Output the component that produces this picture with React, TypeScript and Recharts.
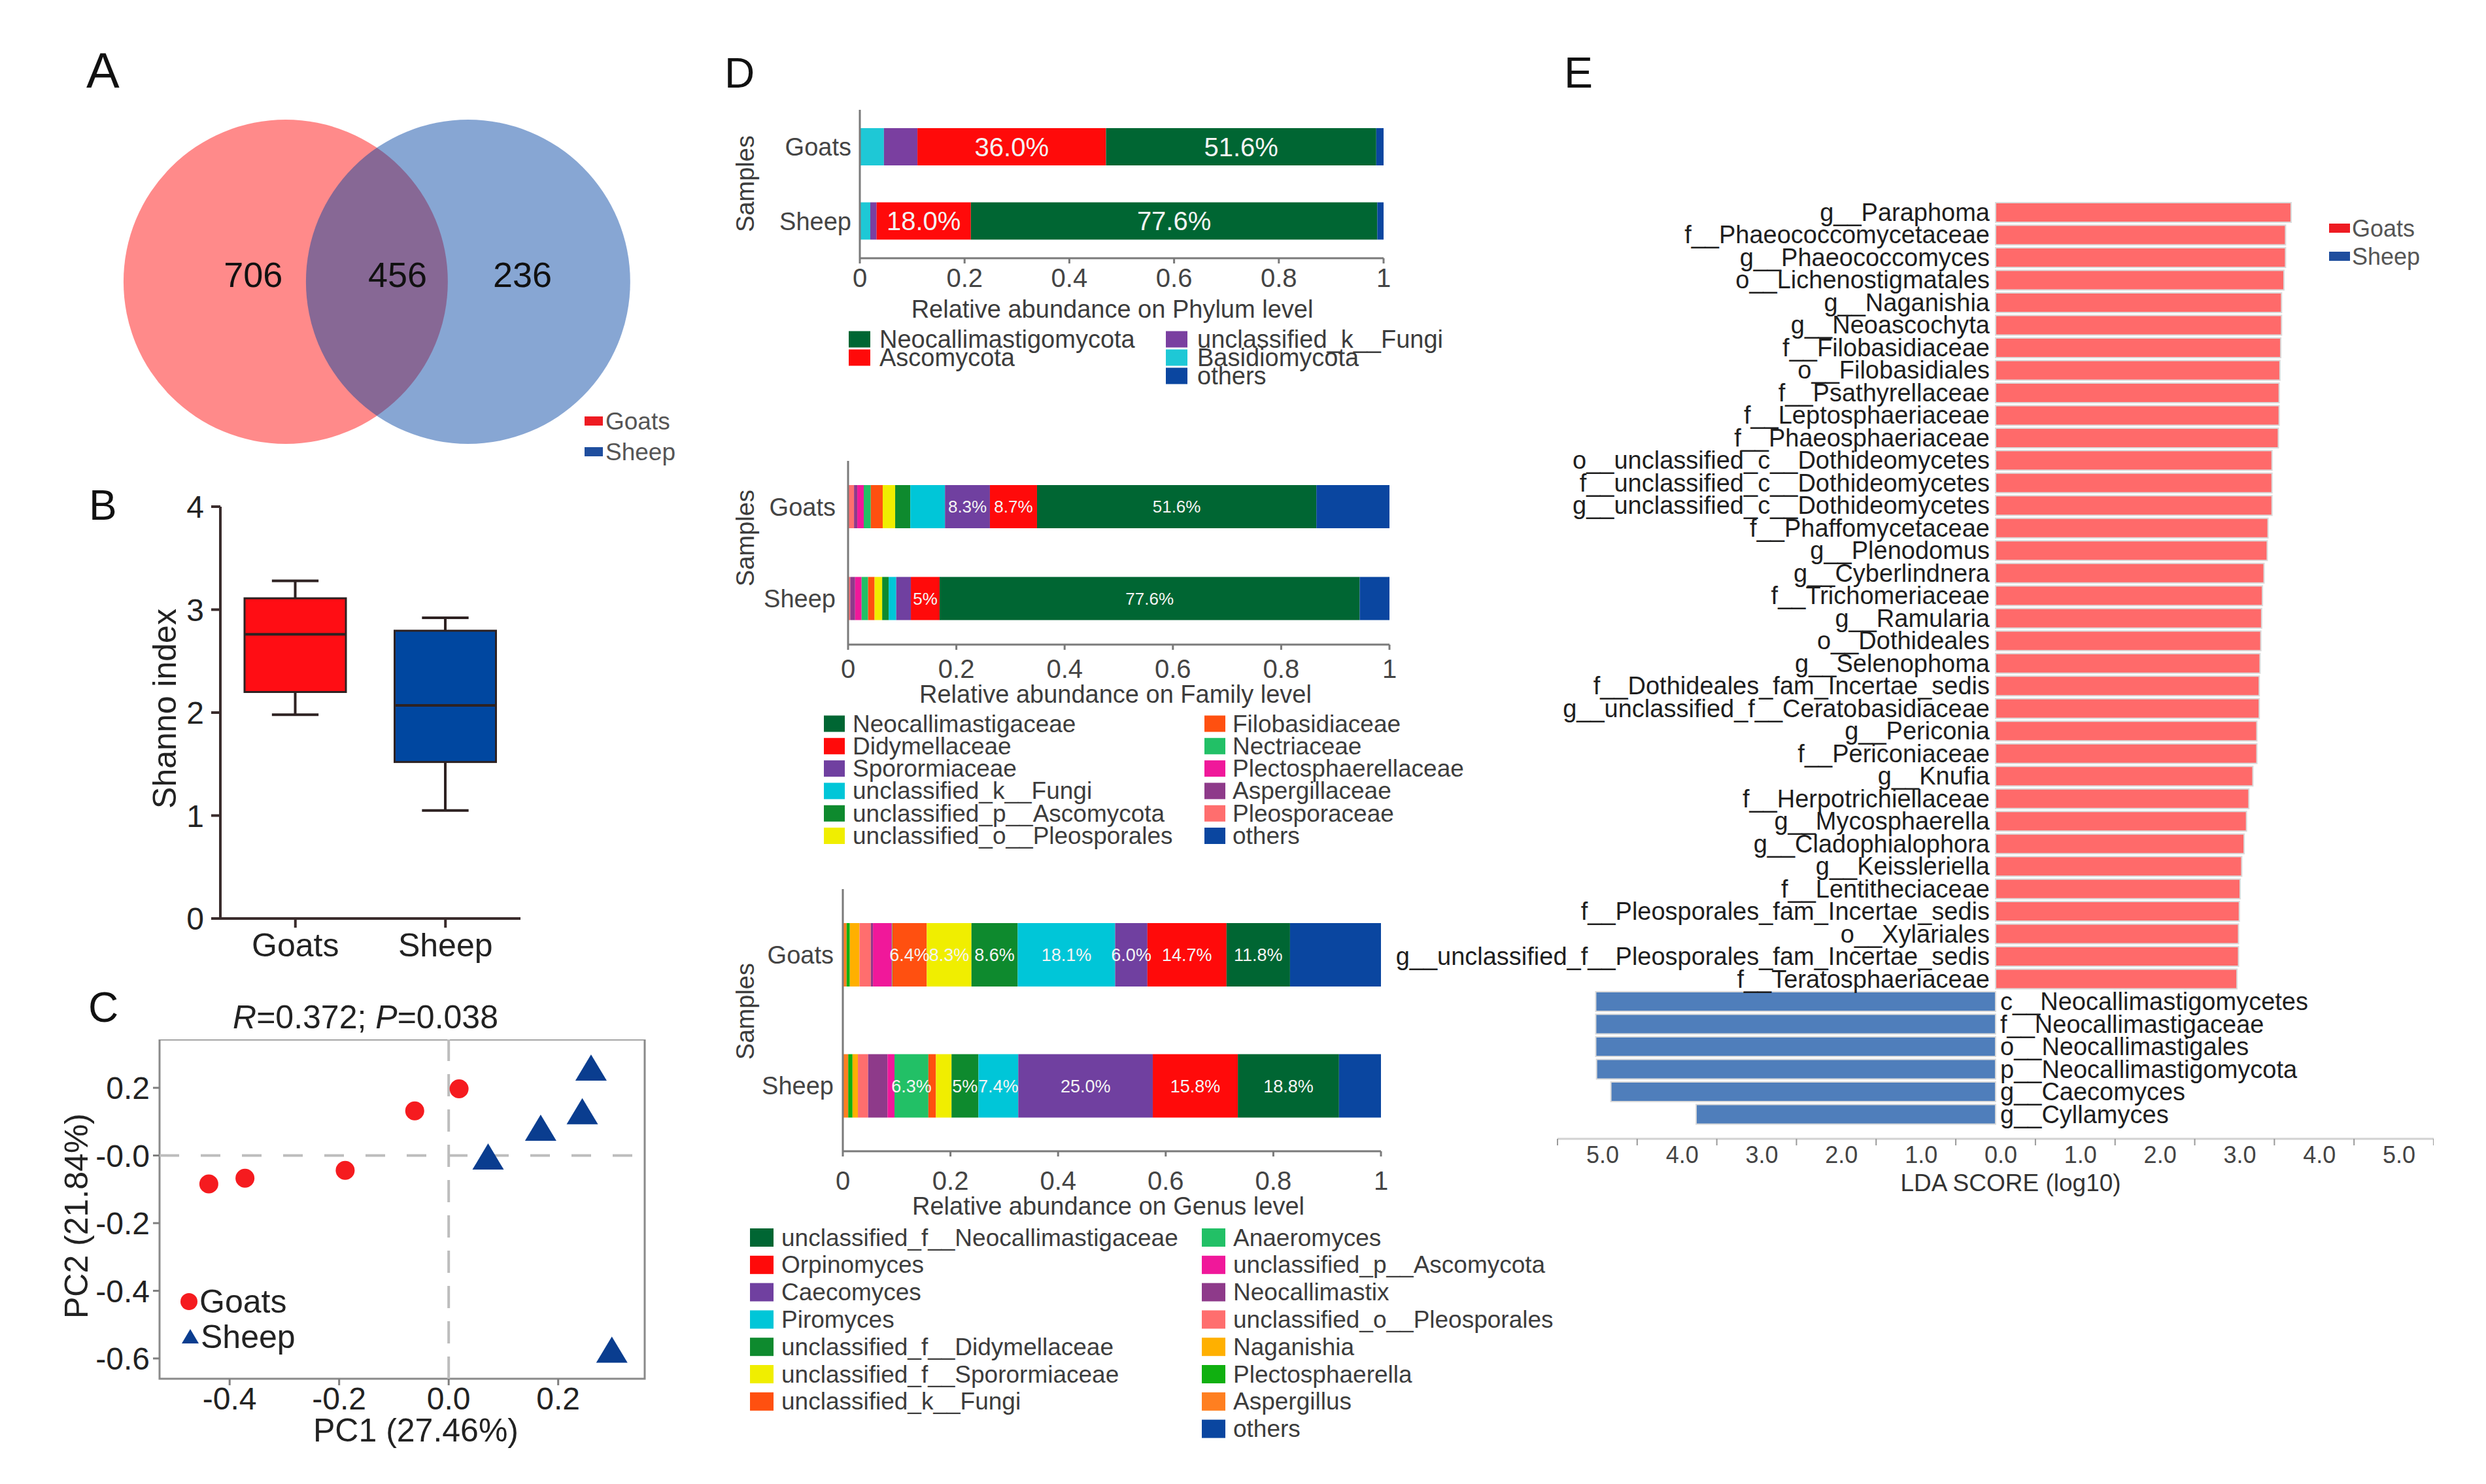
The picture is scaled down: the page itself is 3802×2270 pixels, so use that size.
import React from "react";
import {
  BarChart,
  Bar,
  ComposedChart,
  ScatterChart,
  Scatter,
  XAxis,
  YAxis,
  ReferenceLine,
  ReferenceArea,
  LabelList,
  Cell,
} from "recharts";

const FONT = '"Liberation Sans", Arial, Helvetica, sans-serif';
const INK = "#222";
const GREY_TXT = "#444";

// ---------- A : Venn ----------
const vennSets = ["Goats", "Sheep"];
const vennCenterX = [0, 1.125];
const vennRadius = [1, 1];
const vennColors = ["#FF0000", "#0042A1"];
const vennOpacity = [0.46, 0.47];
const vennCounts = [706, 456, 236];
const vennCountX = [-0.2, 0.69, 1.46];
const vennCountY = [0.045, 0.045, 0.045];
const groupColors = ["#EE1B22", "#1F4E9E"];

// ---------- B : Shannon box plot ----------
const boxGroups = ["Goats", "Sheep"];
const boxMin = [1.98, 1.05];
const boxQ1 = [2.2, 1.52];
const boxMedian = [2.76, 2.07];
const boxQ3 = [3.11, 2.795];
const boxMax = [3.28, 2.92];
const boxColors = ["#FF0D14", "#0047A0"];

// ---------- C : PCoA ----------
const goatsPC1 = [-0.438, -0.372, -0.189, -0.062, 0.019];
const goatsPC2 = [-0.084, -0.067, -0.044, 0.132, 0.197];
const sheepPC1 = [0.072, 0.168, 0.244, 0.26, 0.298];
const sheepPC2 = [-0.007, 0.078, 0.127, 0.256, -0.578];
const pcXTicks = [-0.4, -0.2, 0, 0.2];
const pcYTicks = [0.2, 0, -0.2, -0.4, -0.6];

// ---------- D : relative abundance ----------
const pctTicks = [0, 20, 40, 60, 80, 100];

const phylumKeys = ["Basidiomycota", "unclassified_k__Fungi", "Ascomycota", "Neocallimastigomycota", "others"];
const phylumColors = ["#1EC8D6", "#7A3FA0", "#FF0A0A", "#006633", "#0A46A0"];
const phylumGoats = [4.6, 6.4, 36.0, 51.6, 1.4];
const phylumSheep = [2.0, 1.2, 18.0, 77.6, 1.2];
const phylumGoatsLbl = ["", "", "36.0%", "51.6%", ""];
const phylumSheepLbl = ["", "", "18.0%", "77.6%", ""];
const phylumLegend = [
  ["Neocallimastigomycota", "Ascomycota"],
  ["unclassified_k__Fungi", "Basidiomycota", "others"],
];

const familyKeys = [
  "Pleosporaceae", "Aspergillaceae", "Plectosphaerellaceae", "Nectriaceae", "Filobasidiaceae",
  "unclassified_o__Pleosporales", "unclassified_p__Ascomycota", "unclassified_k__Fungi",
  "Sporormiaceae", "Didymellaceae", "Neocallimastigaceae", "others",
];
const familyColors = [
  "#FF6E6E", "#8E3A8A", "#F0189A", "#22C066", "#FF5010",
  "#F0EE00", "#0E8A2E", "#00C6D8", "#7040A0", "#FF0A0A", "#006633", "#0A46A0",
];
const familyGoats = [1.1, 0.6, 1.2, 1.3, 2.2, 2.3, 2.8, 6.4, 8.3, 8.7, 51.6, 13.5];
const familySheep = [0.4, 0.9, 1.2, 1.2, 1.2, 1.4, 1.2, 1.4, 2.7, 5.3, 77.6, 5.5];
const familyGoatsLbl = ["", "", "", "", "", "", "", "", "8.3%", "8.7%", "51.6%", ""];
const familySheepLbl = ["", "", "", "", "", "", "", "", "", "5%", "77.6%", ""];
const familyLegend = [
  ["Neocallimastigaceae", "Didymellaceae", "Sporormiaceae", "unclassified_k__Fungi", "unclassified_p__Ascomycota", "unclassified_o__Pleosporales"],
  ["Filobasidiaceae", "Nectriaceae", "Plectosphaerellaceae", "Aspergillaceae", "Pleosporaceae", "others"],
];

const genusKeys = [
  "Aspergillus", "Plectosphaerella", "Naganishia", "unclassified_o__Pleosporales", "Neocallimastix",
  "unclassified_p__Ascomycota", "Anaeromyces", "unclassified_k__Fungi", "unclassified_f__Sporormiaceae",
  "unclassified_f__Didymellaceae", "Piromyces", "Caecomyces", "Orpinomyces",
  "unclassified_f__Neocallimastigaceae", "others",
];
const genusColors = [
  "#FF7F20", "#10B010", "#FFB000", "#FF6E6E", "#8E3A8A",
  "#F0189A", "#22C066", "#FF5010", "#F0EE00",
  "#0E8A2E", "#00C6D8", "#7040A0", "#FF0A0A",
  "#006633", "#0A46A0",
];
const genusGoats = [0.7, 0.6, 1.8, 2.1, 0.4, 3.5, 0.1, 6.4, 8.3, 8.6, 18.1, 6.0, 14.7, 11.8, 16.9];
const genusSheep = [1.0, 0.8, 1.0, 1.9, 3.6, 1.3, 6.3, 1.4, 2.9, 5.0, 7.4, 25.0, 15.8, 18.8, 7.8];
const genusGoatsLbl = ["", "", "", "", "", "", "", "6.4%", "8.3%", "8.6%", "18.1%", "6.0%", "14.7%", "11.8%", ""];
const genusSheepLbl = ["", "", "", "", "", "", "6.3%", "", "", "5%", "7.4%", "25.0%", "15.8%", "18.8%", ""];
const genusLegend = [
  ["unclassified_f__Neocallimastigaceae", "Orpinomyces", "Caecomyces", "Piromyces", "unclassified_f__Didymellaceae", "unclassified_f__Sporormiaceae", "unclassified_k__Fungi"],
  ["Anaeromyces", "unclassified_p__Ascomycota", "Neocallimastix", "unclassified_o__Pleosporales", "Naganishia", "Plectosphaerella", "Aspergillus", "others"],
];

// ---------- E : LEfSe ----------
const ldaGoatsNames = [
  "g__Paraphoma", "f__Phaeococcomycetaceae", "g__Phaeococcomyces", "o__Lichenostigmatales",
  "g__Naganishia", "g__Neoascochyta", "f__Filobasidiaceae", "o__Filobasidiales",
  "f__Psathyrellaceae", "f__Leptosphaeriaceae", "f__Phaeosphaeriaceae",
  "o__unclassified_c__Dothideomycetes", "f__unclassified_c__Dothideomycetes", "g__unclassified_c__Dothideomycetes",
  "f__Phaffomycetaceae", "g__Plenodomus", "g__Cyberlindnera", "f__Trichomeriaceae", "g__Ramularia",
  "o__Dothideales", "g__Selenophoma", "f__Dothideales_fam_Incertae_sedis", "g__unclassified_f__Ceratobasidiaceae",
  "g__Periconia", "f__Periconiaceae", "g__Knufia", "f__Herpotrichiellaceae", "g__Mycosphaerella",
  "g__Cladophialophora", "g__Keissleriella", "f__Lentitheciaceae", "f__Pleosporales_fam_Incertae_sedis",
  "o__Xylariales", "g__unclassified_f__Pleosporales_fam_Incertae_sedis", "f__Teratosphaeriaceae",
];
const ldaGoatsScores = [
  3.71, 3.64, 3.64, 3.62, 3.59, 3.59, 3.58, 3.57, 3.56, 3.56, 3.55, 3.47, 3.47, 3.47,
  3.42, 3.41, 3.37, 3.35, 3.34, 3.33, 3.32, 3.31, 3.31, 3.28, 3.28, 3.23, 3.18, 3.15,
  3.12, 3.09, 3.07, 3.06, 3.05, 3.05, 3.03,
];
const ldaSheepNames = [
  "c__Neocallimastigomycetes", "f__Neocallimastigaceae", "o__Neocallimastigales",
  "p__Neocallimastigomycota", "g__Caecomyces", "g__Cyllamyces",
];
const ldaSheepScores = [5.02, 5.02, 5.02, 5.01, 4.83, 3.76];
const ldaDomain = [-5.5, 5.5];
const ldaHalfTicks = [-5.5, -4.5, -3.5, -2.5, -1.5, -0.5, 0.5, 1.5, 2.5, 3.5, 4.5, 5.5];
const ldaBarColors = ["#FF6A6A", "#4F7EBB"];

// ---------- components ----------
const abs = (left: number, top: number): React.CSSProperties => ({ position: "absolute", left, top });

function VennPanel() {
  const W = 796, H = 516;
  const xd = [-1.04, 2.17];
  const yd = [-1.04, 1.04];
  const unit = W / (xd[1] - xd[0]);
  const circles = vennSets.map((s, i) => ({ x: vennCenterX[i], y: 0, r: vennRadius[i], fill: vennColors[i], op: vennOpacity[i], s }));
  const counts = vennCounts.map((n, i) => ({ x: vennCountX[i], y: vennCountY[i], n }));
  return (
    <div style={abs(179, 173)}>
      <ScatterChart width={W} height={H} margin={{ top: 0, right: 0, bottom: 0, left: 0 }}>
        <XAxis type="number" dataKey="x" domain={xd} hide height={0} />
        <YAxis type="number" dataKey="y" domain={yd} hide width={0} />
        <Scatter
          data={circles}
          isAnimationActive={false}
          shape={(p: any) => (
            <circle cx={p.cx} cy={p.cy} r={p.payload.r * unit} fill={p.payload.fill} fillOpacity={p.payload.op} />
          )}
        />
        <Scatter
          data={counts}
          isAnimationActive={false}
          shape={(p: any) => (
            <text x={p.cx} y={p.cy} textAnchor="middle" dominantBaseline="central" fontSize={54} fontFamily={FONT} fill="#111">
              {p.payload.n}
            </text>
          )}
        />
      </ScatterChart>
    </div>
  );
}

const BoxShape = (p: any) => {
  const { x, y, width, height, payload } = p;
  const top = Math.min(y, y + height);
  const bot = Math.max(y, y + height);
  const py = (v: number) => bot - ((v - payload.min) / (payload.max - payload.min)) * (bot - top);
  const cx = x + width / 2;
  const cap = width * 0.46;
  const st = "#2E2222";
  return (
    <g>
      <line x1={cx} x2={cx} y1={py(payload.max)} y2={py(payload.q3)} stroke={st} strokeWidth={4} />
      <line x1={cx} x2={cx} y1={py(payload.q1)} y2={py(payload.min)} stroke={st} strokeWidth={4} />
      <line x1={cx - cap / 2} x2={cx + cap / 2} y1={py(payload.max)} y2={py(payload.max)} stroke={st} strokeWidth={4} />
      <line x1={cx - cap / 2} x2={cx + cap / 2} y1={py(payload.min)} y2={py(payload.min)} stroke={st} strokeWidth={4} />
      <rect x={x} y={py(payload.q3)} width={width} height={py(payload.q1) - py(payload.q3)} fill={payload.color} stroke={st} strokeWidth={3} />
      <line x1={x} x2={x + width} y1={py(payload.median)} y2={py(payload.median)} stroke={st} strokeWidth={4} />
    </g>
  );
};

function BoxPanel() {
  const data = boxGroups.map((g, i) => ({
    group: g,
    range: [boxMin[i], boxMax[i]],
    min: boxMin[i],
    q1: boxQ1[i],
    median: boxMedian[i],
    q3: boxQ3[i],
    max: boxMax[i],
    color: boxColors[i],
  }));
  const ax = "#3A2C2C";
  return (
    <div style={abs(200, 745)}>
      <ComposedChart width={620} height={740} data={data} margin={{ top: 30, right: 24, left: 57, bottom: 0 }}>
        <XAxis
          dataKey="group"
          height={80}
          tickSize={14}
          tickMargin={8}
          stroke={ax}
          strokeWidth={4}
          tickLine={{ strokeWidth: 4 }}
          tick={{ fontSize: 50, fill: INK, fontFamily: FONT }}
        />
        <YAxis
          type="number"
          domain={[0, 4]}
          ticks={[0, 1, 2, 3, 4]}
          width={80}
          tickSize={14}
          tickMargin={11}
          stroke={ax}
          strokeWidth={4}
          tickLine={{ strokeWidth: 4 }}
          tick={{ fontSize: 48, fill: INK, fontFamily: FONT }}
        />
        <Bar dataKey="range" barSize={155} shape={BoxShape} isAnimationActive={false} />
      </ComposedChart>
    </div>
  );
}

function PcoaPanel() {
  const xd = [-0.528, 0.358];
  const yd = [-0.66, 0.343];
  const goats = goatsPC1.map((x, i) => ({ x, y: goatsPC2[i] }));
  const sheep = sheepPC1.map((x, i) => ({ x, y: sheepPC2[i] }));
  const tickStyle = { fontSize: 48, fill: INK, fontFamily: FONT };
  return (
    <div style={abs(134, 1590)}>
      <ScatterChart width={862} height={619} margin={{ top: 0, right: 10, bottom: 0, left: 0 }}>
        <XAxis
          type="number"
          dataKey="x"
          domain={xd}
          allowDataOverflow
          ticks={pcXTicks}
          tickFormatter={(v: number) => v.toFixed(1)}
          height={100}
          axisLine={false}
          tickSize={10}
          tickMargin={3}
          stroke="#7F7F7F"
          tickLine={{ strokeWidth: 3 }}
          tick={tickStyle}
        />
        <YAxis
          type="number"
          dataKey="y"
          domain={yd}
          allowDataOverflow
          ticks={pcYTicks}
          tickFormatter={(v: number) => (v === 0 ? "-0.0" : v.toFixed(1))}
          width={110}
          axisLine={false}
          tickSize={10}
          tickMargin={5}
          stroke="#7F7F7F"
          tickLine={{ strokeWidth: 3 }}
          tick={tickStyle}
        />
        <ReferenceArea x1={xd[0]} x2={xd[1]} y1={yd[0]} y2={yd[1]} fill="none" stroke="#8A8A8A" strokeWidth={3} />
        <ReferenceLine x={0} stroke="#BDBDBD" strokeWidth={4} strokeDasharray="34 20" />
        <ReferenceLine y={0} stroke="#BDBDBD" strokeWidth={4} strokeDasharray="30 33" />
        <Scatter
          data={goats}
          isAnimationActive={false}
          shape={(p: any) => <circle cx={p.cx} cy={p.cy} r={14.5} fill="#F51B1F" />}
        />
        <Scatter
          data={sheep}
          isAnimationActive={false}
          shape={(p: any) => (
            <polygon
              points={`${p.cx},${p.cy - 22} ${p.cx - 24},${p.cy + 18} ${p.cx + 24},${p.cy + 18}`}
              fill="#0A3D8F"
            />
          )}
        />
      </ScatterChart>
    </div>
  );
}

type StackCfg = {
  keys: string[];
  colors: string[];
  goats: number[];
  sheep: number[];
  goatsLbl: string[];
  sheepLbl: string[];
  left: number;
  top: number;
  width: number;
  height: number;
  yW: number;
  xH: number;
  barSize: number;
  lblSize: number;
  yTickMargin: number;
  xTickMargin: number;
};

function StackPanel(c: StackCfg) {
  const src: [string, number[], string[]][] = [
    ["Goats", c.goats, c.goatsLbl],
    ["Sheep", c.sheep, c.sheepLbl],
  ];
  const rows = src.map(([s, vals, lbls]) => {
    const r: any = { sample: s };
    c.keys.forEach((k, i) => {
      r[k] = vals[i];
      r[k + "__lbl"] = lbls[i];
    });
    return r;
  });
  const ax = "#7A7A7A";
  return (
    <div style={abs(c.left, c.top)}>
      <BarChart layout="vertical" width={c.width} height={c.height} data={rows} margin={{ top: 0, right: 20, bottom: 0, left: 0 }}>
        <XAxis
          type="number"
          domain={[0, 100]}
          ticks={pctTicks}
          tickFormatter={(v: number) => String(v / 100)}
          height={c.xH}
          tickSize={8}
          tickMargin={c.xTickMargin}
          stroke={ax}
          strokeWidth={3}
          tick={{ fill: GREY_TXT, fontSize: 40, fontFamily: FONT }}
        />
        <YAxis
          type="category"
          dataKey="sample"
          width={c.yW}
          tickSize={0}
          tickLine={false}
          tickMargin={c.yTickMargin}
          stroke={ax}
          strokeWidth={3}
          tick={{ fill: GREY_TXT, fontSize: 38, fontFamily: FONT }}
        />
        {c.keys.map((k, i) => (
          <Bar key={k} dataKey={k} stackId="s" fill={c.colors[i]} barSize={c.barSize} isAnimationActive={false}>
            <LabelList dataKey={k + "__lbl"} position="center" fill="#F4F4F4" fontSize={c.lblSize} fontFamily={FONT} />
          </Bar>
        ))}
      </BarChart>
    </div>
  );
}

function LdaPanel() {
  const rows = [
    ...ldaGoatsNames.map((n, i) => ({ name: n, lda: ldaGoatsScores[i], g: 0 })),
    ...ldaSheepNames.map((n, i) => ({ name: n, lda: -ldaSheepScores[i], g: 1 })),
  ];
  const scoreOf = new Map(rows.map((r) => [r.name, r.lda]));
  const marginLeft = 300;
  const marginTop = 20;
  const plotW = 1340;
  const halfUnit = plotW / (ldaDomain[1] - ldaDomain[0]) / 2;
  const NameLabel = (p: any) => {
    const vb = p.viewBox && p.viewBox.width !== undefined ? p.viewBox : p;
    const { x, y, width, height } = vb;
    const v = scoreOf.get(p.value) ?? 0;
    const zero = v >= 0 ? Math.min(x, x + width) : Math.max(x, x + width);
    return (
      <text
        x={v >= 0 ? zero - 9 : zero + 7}
        y={y + height / 2}
        textAnchor={v >= 0 ? "end" : "start"}
        dominantBaseline="central"
        fontSize={38}
        fontFamily={FONT}
        fill="#1E1E1E"
      >
        {p.value}
      </text>
    );
  };
  // tick marks sit on half units, labels on the whole units in between
  const LdaTick = (p: any) => {
    const v = p.payload.value + 0.5;
    if (v > ldaDomain[1] - 0.01) return null;
    return (
      <text x={p.x + halfUnit + 8} y={p.y} dy="0.71em" textAnchor="middle" fontSize={36} fontFamily={FONT} fill={GREY_TXT}>
        {Math.abs(v).toFixed(1)}
      </text>
    );
  };
  return (
    <div style={abs(2382 - marginLeft, 308 - marginTop)}>
      <BarChart
        layout="vertical"
        width={plotW + marginLeft}
        height={1494 + marginTop}
        data={rows}
        margin={{ top: marginTop, right: 0, bottom: 0, left: marginLeft }}
      >
        <XAxis
          type="number"
          domain={ldaDomain}
          ticks={ldaHalfTicks}
          tick={LdaTick}
          height={60}
          tickSize={10}
          tickMargin={1}
          stroke="#D2D2D2"
          strokeWidth={3}
          tickLine={{ stroke: "#9A9A9A", strokeWidth: 2 }}
        />
        <YAxis type="category" dataKey="name" hide width={0} padding={{ top: 0, bottom: 20 }} />
        <Bar dataKey="lda" barSize={30} stroke="#DADADA" strokeWidth={2} isAnimationActive={false}>
          {rows.map((r, i) => (
            <Cell key={i} fill={ldaBarColors[r.g]} />
          ))}
          <LabelList dataKey="name" content={NameLabel} />
        </Bar>
      </BarChart>
    </div>
  );
}

function LegendCols({
  cols, keys, colors, swX, txX, y0, pitch, sw, sh, fs,
}: {
  cols: string[][]; keys: string[]; colors: string[]; swX: number[]; txX: number[];
  y0: number; pitch: number; sw: number; sh: number; fs: number;
}) {
  return (
    <g>
      {cols.map((col, ci) =>
        col.map((name, ri) => {
          const y = y0 + ri * pitch;
          return (
            <g key={ci + "-" + ri}>
              <rect x={swX[ci]} y={y - sh / 2} width={sw} height={sh} fill={colors[keys.indexOf(name)]} />
              <text x={txX[ci]} y={y} dominantBaseline="central" fontSize={fs} fontFamily={FONT} fill="#3C3C3C">
                {name}
              </text>
            </g>
          );
        })
      )}
    </g>
  );
}

function Overlay() {
  const letter = (ch: string, x: number, y: number, fs = 66) => (
    <text x={x} y={y} fontSize={fs} fontFamily={FONT} fill="#111">{ch}</text>
  );
  return (
    <svg width={3802} height={2270} style={{ position: "absolute", left: 0, top: 0, pointerEvents: "none" }}>
      {letter("A", 132, 134, 76)}
      {letter("B", 136, 795, 64)}
      {letter("C", 135, 1563, 64)}
      {letter("D", 1108, 134, 64)}
      {letter("E", 2392, 134, 66)}

      {/* A legend */}
      {vennSets.map((s, i) => (
        <g key={s}>
          <rect x={894} y={637 + i * 47} width={28} height={14} fill={groupColors[i]} />
          <text x={926} y={644 + i * 47} dominantBaseline="central" fontSize={37} fontFamily={FONT} fill="#555">{s}</text>
        </g>
      ))}

      {/* B axis title */}
      <text x={252} y={1084} transform="rotate(-90 252 1084)" textAnchor="middle" dominantBaseline="central" fontSize={50} fontFamily={FONT} fill={INK}>
        Shanno index
      </text>

      {/* C titles + legend */}
      <text x={559} y={1556} textAnchor="middle" dominantBaseline="central" fontSize={50} fontFamily={FONT} fill={INK}>
        <tspan fontStyle="italic">R</tspan>=0.372; <tspan fontStyle="italic">P</tspan>=0.038
      </text>
      <text x={636} y={2188} textAnchor="middle" dominantBaseline="central" fontSize={50} fontFamily={FONT} fill={INK}>
        PC1 (27.46%)
      </text>
      <text x={117} y={1860} transform="rotate(-90 117 1860)" textAnchor="middle" dominantBaseline="central" fontSize={50} fontFamily={FONT} fill={INK}>
        PC2 (21.84%)
      </text>
      <circle cx={289} cy={1991} r={13} fill="#F51B1F" />
      <text x={305} y={1991} dominantBaseline="central" fontSize={50} fontFamily={FONT} fill={INK}>Goats</text>
      <polygon points="291,2033 278,2055 304,2055" fill="#0A3D8F" />
      <text x={307} y={2045} dominantBaseline="central" fontSize={50} fontFamily={FONT} fill={INK}>Sheep</text>

      {/* D titles */}
      {[
        ["Relative abundance on Phylum level", 1701, 473, 281],
        ["Relative abundance on Family level", 1706, 1062, 823],
        ["Relative abundance on Genus level", 1695, 1845, 1547],
      ].map(([t, x, y, sy]: any) => (
        <g key={t}>
          <text x={x} y={y} textAnchor="middle" dominantBaseline="central" fontSize={38} fontFamily={FONT} fill="#3C3C3C">{t}</text>
          <text x={1140} y={sy} transform={`rotate(-90 1140 ${sy})`} textAnchor="middle" dominantBaseline="central" fontSize={38} fontFamily={FONT} fill="#3C3C3C">
            Samples
          </text>
        </g>
      ))}
      <LegendCols cols={phylumLegend} keys={phylumKeys} colors={phylumColors} swX={[1298, 1783]} txX={[1345, 1831]} y0={519} pitch={28} sw={33} sh={25} fs={38} />
      <LegendCols cols={familyLegend} keys={familyKeys} colors={familyColors} swX={[1260, 1842]} txX={[1304, 1885]} y0={1107} pitch={34.3} sw={32} sh={25} fs={37} />
      <LegendCols cols={genusLegend} keys={genusKeys} colors={genusColors} swX={[1147, 1838]} txX={[1195, 1886]} y0={1893} pitch={41.8} sw={36} sh={28} fs={37} />

      {/* E legend + axis title */}
      {vennSets.map((s, i) => (
        <g key={"e" + s}>
          <rect x={3562} y={342 + i * 43} width={32} height={14} fill={groupColors[i]} />
          <text x={3597} y={349 + i * 43} dominantBaseline="central" fontSize={36} fontFamily={FONT} fill="#555">{s}</text>
        </g>
      ))}
      <text x={3075} y={1809} textAnchor="middle" dominantBaseline="central" fontSize={37} fontFamily={FONT} fill="#333">
        LDA SCORE (log10)
      </text>
    </svg>
  );
}

export default function App() {
  return (
    <div style={{ position: "absolute", left: 0, top: 0, width: 3802, height: 2270, background: "#fff", overflow: "hidden", fontFamily: FONT }}>
      <VennPanel />
      <BoxPanel />
      <PcoaPanel />
      <StackPanel
        keys={phylumKeys} colors={phylumColors} goats={phylumGoats} sheep={phylumSheep}
        goatsLbl={phylumGoatsLbl} sheepLbl={phylumSheepLbl}
        left={1155} top={168} width={981} height={307} yW={160} xH={80}
        barSize={57} lblSize={40} yTickMargin={13} xTickMargin={8}
      />
      <StackPanel
        keys={familyKeys} colors={familyColors} goats={familyGoats} sheep={familySheep}
        goatsLbl={familyGoatsLbl} sheepLbl={familySheepLbl}
        left={1137} top={705} width={1008} height={361} yW={160} xH={80}
        barSize={66} lblSize={26} yTickMargin={19} xTickMargin={15}
      />
      <StackPanel
        keys={genusKeys} colors={genusColors} goats={genusGoats} sheep={genusSheep}
        goatsLbl={genusGoatsLbl} sheepLbl={genusSheepLbl}
        left={1129} top={1360} width={1003} height={481} yW={160} xH={80}
        barSize={97} lblSize={27} yTickMargin={14} xTickMargin={23}
      />
      <LdaPanel />
      <Overlay />
    </div>
  );
}
